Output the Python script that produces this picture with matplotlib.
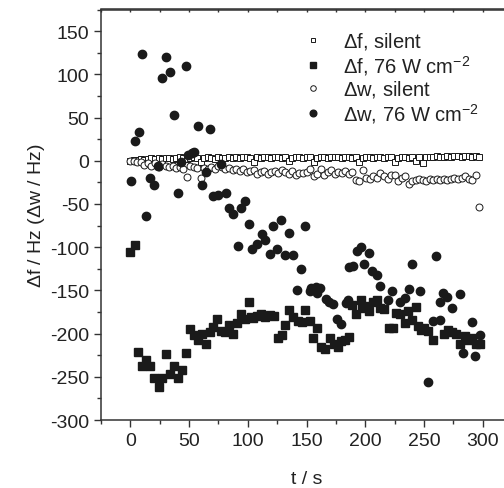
import numpy as np
import matplotlib
matplotlib.use("Agg")
import matplotlib.pyplot as plt
from matplotlib.ticker import MultipleLocator

plt.rcParams['font.family'] = ['Liberation Sans', 'DejaVu Sans']
plt.rcParams['mathtext.fontset'] = 'custom'
plt.rcParams['mathtext.rm'] = 'Liberation Sans'
plt.rcParams['mathtext.default'] = 'regular'
plt.rcParams['axes.unicode_minus'] = False

# silent runs: sampled every 3 s
t_silent = np.arange(0, 300, 3)
df_silent = [0, 1, 1, 2, 1, 2, 3, 2, 3, 2,
             3, 3, 2, 3, 4, 3, 2, 3, 4, 3,
             -1, 3, 4, 3, 2, 4, 3, 3, 4, 3,
             4, 3, 4, 4, 3, -1, 4, 3, 4, 4,
             3, 4, 4, 3, 4, 0, 3, 4, 4, 3,
             4, 4, -1, 3, 4, 4, 3, 4, 4, 4,
             3, 4, 4, 3, 4, -2, 3, 4, 4, 3,
             4, 4, 3, 4, 4, -2, 3, 4, 4, 3,
             4, 0, 4, -3, 4, 4, 4, 5, 4, 4,
             5, 4, 5, 5, 4, 5, 5, 4, 5, 4]
dw_silent = [0, 0, -1, -2, -5, -3, -6, -3, -7, -4,
             -6, -7, -6, -8, -7, -9, -19, -6, -7, -8,
             -20, -8, -9, -7, -9, -6, -7, -9, -8, -11,
             -9, -12, -10, -13, -12, -11, -15, -13, -12, -15,
             -13, -12, -14, -11, -13, -15, -12, -16, -14, -14,
             -13, -9, -18, -15, -10, -17, -13, -11, -15, -13,
             -14, -12, -15, -13, -22, -23, -11, -20, -21, -18,
             -20, -14, -18, -21, -17, -16, -24, -20, -18, -27,
             -23, -22, -21, -22, -23, -21, -22, -21, -22, -21,
             -22, -21, -20, -21, -20, -18, -21, -22, -17, -53]

# 76 W cm-2 runs
t_df_us = [0, 4, 6.8, 10, 13.4, 16.8, 20.5, 24, 27, 30.4, 33.8, 37.5, 40.6, 44,
           47.5, 50.9, 54, 57.7, 61.1, 64.5, 67.9, 70.7, 74.1, 77.6, 81, 84.4,
           87.8, 91.2, 94.6, 98, 101.4, 103, 104.8, 108.2, 111.6, 115, 118.5,
           121.9, 125.5, 129, 132, 135.5, 138.9, 142.6, 146.3, 148.6, 152.6,
           155.4, 159, 162.5, 166, 169.6, 173, 176.7, 179.6, 183.2, 186.1, 189,
           192.3, 196, 197.5, 199.4, 202.8, 206.5, 210.3, 212.2, 215.9, 220.2,
           223.6, 226.4, 229.9, 233.5, 236.3, 239.8, 243.5, 245, 247.8, 249.7,
           253.4, 257.7, 266.8, 270.4, 274.2, 277.6, 281, 284.7, 287.5, 291.2,
           294.6, 297.5]
df_us = [-106, -97, -221, -238, -230, -238, -251, -262, -251, -224, -247, -237,
         -251, -242, -223, -195, -202, -208, -200, -212, -198, -192, -183, -197,
         -198, -190, -201, -188, -177, -183, -164, -181, -182, -180, -177, -181,
         -178, -180, -205, -202, -190, -173, -181, -185, -187, -173, -185, -205,
         -193, -216, -218, -205, -212, -215, -209, -207, -204, -167, -177, -161,
         -170, -168, -174, -163, -161, -170, -172, -193, -194, -176, -177, -188,
         -174, -184, -169, -191, -196, -193, -197, -208, -200, -196, -198, -201,
         -212, -203, -208, -205, -212, -212]

t_dw_us = [0.3, 3.7, 7.1, 10.3, 13.6, 17, 20.5, 23.3, 27.3, 30.4, 34, 37.2, 40.6,
           43.2, 47, 49.4, 52.6, 54.5, 57.4, 61.1, 64.2, 67.6, 70.7, 74.4, 77.6,
           81.2, 84.1, 87.5, 91.5, 94.6, 97.7, 101.2, 104, 108, 111.9, 115,
           118.5, 121.6, 125.3, 128.4, 131.9, 134.9, 138.7, 141.8, 145.5, 148.6,
           152.6, 154, 157.7, 158.8, 161.7, 166.2, 169, 172.4, 176.2, 179.5,
           183.8, 185.2, 186.6, 189.2, 192.9, 196.6, 199.2, 202.8, 206.2, 210,
           212.5, 219.3, 222.7, 230, 233.5, 237, 240.1, 246.9, 253.4, 257.7, 260,
           263.4, 263.6, 266.5, 269.6, 273.8, 280.4, 283.5, 290.6, 293.8, 297.4]
dw_us = [-23, 23, 33, 123, -64, -20, -28, -6, 96, 120, 103, 53, -37, -2, 110, 7,
         9, 10, 40, -28, -13, 37, -41, -40, -4, -37, -55, -62, -99, -55, -47,
         -73, -102, -96, -85, -92, -108, -75, -102, -69, -109, -84, -109, -150,
         -125, -76, -151, -147, -146, -153, -147, -160, -163, -166, -183, -189,
         -165, -161, -123, -122, -105, -100, -120, -107, -128, -132, -145, -161,
         -151, -163, -159, -148, -119, -151, -256, -185, -110, -184, -164, -153,
         -158, -170, -154, -223, -187, -226, -202]

labels = [r'$\Delta$f, silent', r'$\Delta$f, 76 W cm$^{\mathrm{-2}}$',
          r'$\Delta$w, silent', r'$\Delta$w, 76 W cm$^{\mathrm{-2}}$']

fig = plt.figure(figsize=(5.04, 4.89), dpi=100)
ax = fig.add_axes([101 / 504, 68 / 489, 411 / 504, 410.5 / 489])

ink = '#1a1a1a'
ax.plot(t_silent, df_silent, 's', mfc='white', mec=ink, mew=0.7, ms=4.4,
        label=labels[0], zorder=3)
ax.plot(t_df_us, df_us, 's', color=ink, ms=5.2, label=labels[1], zorder=4)
ax.plot(t_silent, dw_silent, 'o', mfc='white', mec=ink, mew=0.7, ms=5.0,
        label=labels[2], zorder=3)
ax.plot(t_dw_us, dw_us, 'o', color=ink, ms=6.0, label=labels[3], zorder=5)

ax.set_xlim(-25, 325)
ax.set_ylim(-300, 175)
ax.xaxis.set_minor_locator(MultipleLocator(25))
ax.yaxis.set_minor_locator(MultipleLocator(25))
ax.set_yticks(np.arange(-300, 151, 50))
ax.set_xticks(np.arange(0, 301, 50))

for s in ax.spines.values():
    s.set_linewidth(1.1)
    s.set_color('#333333')
ax.spines['right'].set_visible(False)

ax.tick_params(which='major', direction='out', length=5, width=1, labelsize=14,
               colors='#333333', labelcolor='#222222')
ax.tick_params(which='minor', direction='out', length=3, width=1, colors='#333333')

top = ax.secondary_xaxis('top')
top.set_xticks(np.arange(0, 301, 50))
top.xaxis.set_minor_locator(MultipleLocator(25))
top.tick_params(which='both', direction='in', length=2.5, width=1, labeltop=False,
                colors='#333333')
top.spines['top'].set_linewidth(1.1)
top.spines['top'].set_color('#333333')

ax.set_xlabel('t / s', fontsize=14, color='#222222', labelpad=15)
ax.set_ylabel(r'$\Delta$f / Hz ($\Delta$w / Hz)', fontsize=14, color='#222222', labelpad=2)

leg = ax.legend(loc='upper left', bbox_to_anchor=(293 / 504, 466 / 489),
                bbox_transform=fig.transFigure, frameon=False, fontsize=14.5,
                handletextpad=0.9, labelspacing=0.08, handlelength=1.2, markerscale=0.8,
                borderaxespad=0)
for txt in leg.get_texts():
    txt.set_color('#222222')

fig.savefig('out.png', dpi=100)
